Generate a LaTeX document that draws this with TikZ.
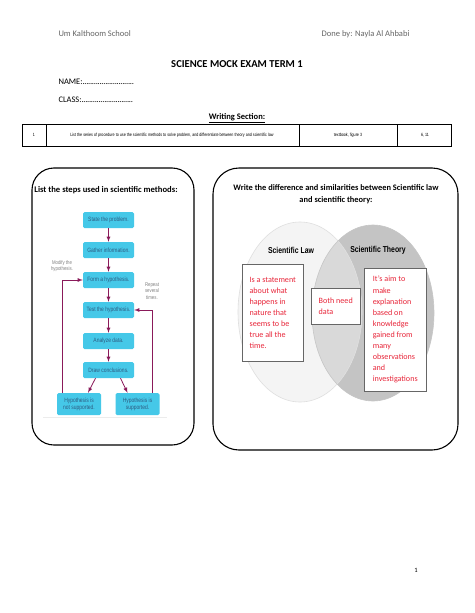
\documentclass[tikz,border=0pt]{standalone}
\usepackage{fontspec}
\usepackage{tikz}
\setmainfont{Carlito}
\newfontfamily\narrowfont[FakeStretch=0.8]{Liberation Sans}
\definecolor{fcCyan}{HTML}{45C8E8}
\definecolor{fcText}{HTML}{2E5C82}
\definecolor{fcArrow}{HTML}{8A1A5A}
\definecolor{vnRed}{HTML}{E8263A}
\definecolor{vnLeft}{HTML}{F4F4F4}
\definecolor{vnRight}{HTML}{C4C4C4}
\definecolor{vnMid}{HTML}{D9D9D9}
\definecolor{hdGray}{HTML}{666666}
\newcommand{\blankline}{\hbox to 52pt{\leaders\hbox to 1.9pt{\hss.\hss}\hfill}}

\begin{document}
\begin{tikzpicture}[x=1pt,y=-1pt,
    panel/.style={draw, line width=1.1pt, rounded corners=22pt},
    stepbox/.style={fill=fcCyan, rounded corners=1.5pt, minimum width=51pt, minimum height=16pt,
                    align=center, inner sep=1pt, font=\narrowfont\fontsize{6.2}{7.2}\selectfont, text=fcText},
    endbox/.style={stepbox, minimum width=44pt, minimum height=22pt},
    flow/.style={->, >=latex, draw=fcArrow, line width=0.8pt},
    note/.style={align=center, text=gray, font=\narrowfont\fontsize{5.4}{6.2}\selectfont},
    answer/.style={draw=gray!80!black, fill=white, line width=0.5pt, anchor=north west, align=left,
                   text=vnRed, font=\fontsize{8.1}{11.1}\selectfont, inner xsep=4.5pt, inner ysep=4.5pt}]
    \useasboundingbox (0,0) rectangle (474,613);
    \fill[white] (0,0) rectangle (474,613);

    % header
    \node[anchor=west, text=hdGray, font=\fontsize{8.5}{10}\selectfont] (school) at (55,34) {Um Kalthoom School};
    \node[anchor=east, text=hdGray, font=\fontsize{8.5}{10}\selectfont] (author) at (413,34) {Done by: Nayla Al Ahbabi};
    \node[font=\bfseries\fontsize{10.6}{12}\selectfont] (title) at (237,64) {SCIENCE MOCK EXAM TERM 1};
    \node[anchor=west, font=\fontsize{8.5}{10}\selectfont] (name) at (55,82) {NAME:\blankline};
    \node[anchor=west, font=\fontsize{8.5}{10}\selectfont] (class) at (55,100) {CLASS:\blankline};
    \node[font=\bfseries\fontsize{8.5}{10}\selectfont] (section) at (237,118) {\underline{Writing Section:}};

    % table row
    \draw[line width=0.6pt] (22,124) rectangle (451,146);
    \draw[line width=0.5pt] (46,124) -- (46,146) (299,124) -- (299,146) (397,124) -- (397,146);
    \node[font=\narrowfont\fontsize{4.6}{5}\selectfont] (num) at (34,135) {1};
    \node[font=\narrowfont\fontsize{4.6}{5}\selectfont] (task) at (172,135) {List the series of procedure to use the scientific methods to solve problem, and differentiate between theory and scientific law};
    \node[font=\narrowfont\fontsize{4.6}{5}\selectfont] (source) at (348,135) {textbook, figure 3};
    \node[font=\narrowfont\fontsize{4.6}{5}\selectfont] (pages) at (425,135) {6, 11};

    % left panel: steps
    \draw[panel] (32,168) rectangle (194,445);
    \node[font=\bfseries\fontsize{8.6}{10}\selectfont] (lefttitle) at (106,190) {List the steps used in scientific methods:};
    \node[stepbox] (state)  at (108.5,220) {State the problem.};
    \node[stepbox] (gather) at (108.5,250) {Gather information.};
    \node[stepbox] (form)   at (108.5,280) {Form a hypothesis.};
    \node[stepbox] (test)   at (108.5,310) {Test the hypothesis.};
    \node[stepbox] (anal)   at (108.5,341) {Analyze data.};
    \node[stepbox] (concl)  at (108.5,370) {Draw conclusions.};
    \node[endbox]  (nosup)  at (79,404)    {Hypothesis is\\not supported.};
    \node[endbox]  (sup)    at (137.5,404) {Hypothesis is\\supported.};
    \node[note] (modify) at (62,266) {Modify the\\hypothesis.};
    \node[note] (repeat) at (152,291) {Repeat\\several\\times.};
    \draw[flow] (state) -- (gather);
    \draw[flow] (gather) -- (form);
    \draw[flow] (form) -- (test);
    \draw[flow] (test) -- (anal);
    \draw[flow] (anal) -- (concl);
    \draw[flow] ([xshift=-13pt]concl.south) -- ([xshift=9pt]nosup.north);
    \draw[flow] ([xshift=12pt]concl.south) -- ([xshift=-10pt]sup.north);
    \draw[flow] ([xshift=-17pt]nosup.north) |- (form.west);
    \draw[flow] ([xshift=14.5pt]sup.north) |- (test.east);
    \draw[gray!15, line width=0.5pt] (43,417) -- (167,417);

    % right panel: venn
    \draw[panel, rounded corners=26pt] (213,168) rectangle (458,450);
    \node[align=center, font=\bfseries\fontsize{8.4}{12}\selectfont] (righttitle) at (336,194)
        {Write the difference and similarities between Scientific law\\and scientific theory:};
    \fill[vnRight] (373,313) ellipse [x radius=61, y radius=88];
    \begin{scope}
        \clip (300,312) ellipse [x radius=62, y radius=90];
        \fill[vnLeft] (300,312) ellipse [x radius=62, y radius=90];
        \fill[vnMid] (373,313) ellipse [x radius=61, y radius=88];
    \end{scope}
    \draw[gray!25, line width=0.6pt] (300,312) ellipse [x radius=62, y radius=90];
    \draw[gray!45, line width=0.6pt] (373,313) ellipse [x radius=61, y radius=88];
    \node[font=\narrowfont\bfseries\fontsize{8.6}{10}\selectfont] (lawlabel) at (291,250) {Scientific Law};
    \node[font=\narrowfont\bfseries\fontsize{8.6}{10}\selectfont] (theorylabel) at (378,250) {Scientific Theory};
    \node[answer, minimum width=61pt, minimum height=97pt] (lawbox) at (242,264)
        {Is a statement\\about what\\happens in\\nature that\\seems to be\\true all the\\time.};
    \node[answer, minimum width=49pt, minimum height=36pt] (bothbox) at (311,288)
        {Both need\\data};
    \node[answer, minimum width=62pt, minimum height=123pt] (theorybox) at (364,268)
        {It’s aim to\\make\\explanation\\based on\\knowledge\\gained from\\many\\observations\\and\\investigations};

    % footer
    \node[font=\fontsize{6.5}{8}\selectfont] (pagenum) at (416,570) {1};
\end{tikzpicture}
\end{document}
